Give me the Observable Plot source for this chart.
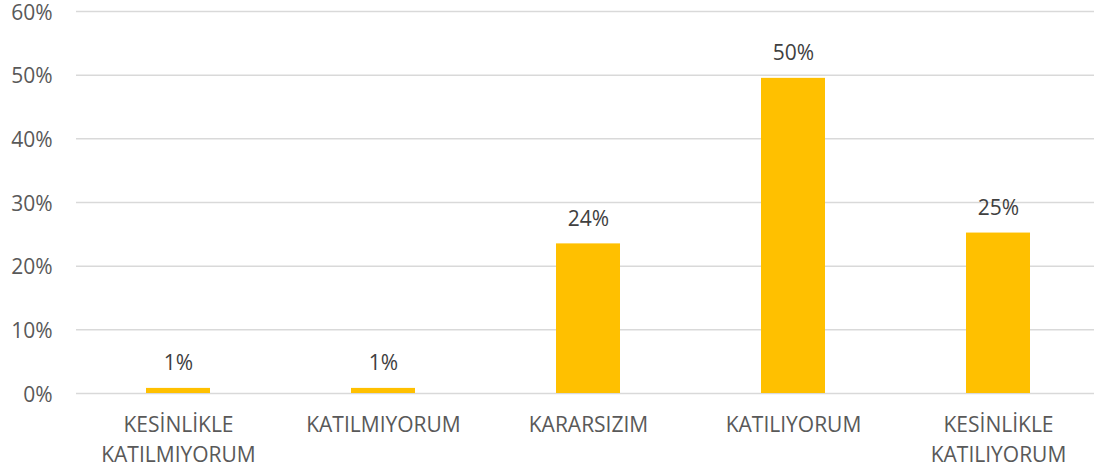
<!DOCTYPE html>
<html>
<head>
<meta charset="utf-8">
<script src="https://cdn.jsdelivr.net/npm/d3@7"></script>
<script src="https://cdn.jsdelivr.net/npm/@observablehq/plot@0.6"></script>
<style>
  html, body { margin: 0; padding: 0; background: #ffffff; }
  #chart svg { display: block; }
</style>
</head>
<body>
<div id="chart"></div>
<script>
const categories = ["KESİNLİKLE\nKATILMIYORUM", "KATILMIYORUM", "KARARSIZIM", "KATILIYORUM", "KESİNLİKLE\nKATILIYORUM"];
const values = [0.008, 0.008, 0.235, 0.495, 0.252];
const valueLabels = ["1%", "1%", "24%", "50%", "25%"];
const yTicks = [0, 0.1, 0.2, 0.3, 0.4, 0.5, 0.6];
const yTickLabels = ["0%", "10%", "20%", "30%", "40%", "50%", "60%"];

const data = categories.map((c, i) => ({category: c, value: values[i], label: valueLabels[i]}));

const chart = Plot.plot({
  width: 1094,
  height: 469,
  marginLeft: 76,
  marginRight: 0,
  marginTop: 11,
  marginBottom: 76,
  style: {fontFamily: "'Open Sans', sans-serif", fontSize: "21px", background: "#ffffff", overflow: "visible"},
  x: {domain: categories, range: [75.5, 1100.5], paddingInner: 0.688, paddingOuter: 0.344, axis: null},
  y: {domain: [0, 0.6], axis: null},
  marks: [
    Plot.ruleY(yTicks, {stroke: "#d9d9d9", strokeWidth: 1.5}),
    Plot.barY(data, {x: "category", y: "value", fill: "#FFC000"}),
    Plot.text(data, {x: "category", y: "value", text: "label", dy: -25, lineAnchor: "middle", fill: "#404040", fontSize: 21}),
    Plot.axisY(yTicks, {tickSize: 0, tickPadding: 24, dy: 1.5, tickFormat: (d, i) => yTickLabels[i], fill: "#595959", fontSize: 21, label: null}),
    Plot.axisX(categories, {tickSize: 0, tickPadding: 17, lineHeight: 1.43, fill: "#595959", fontSize: 21, label: null})
  ]
});
document.getElementById("chart").appendChild(chart);
</script>
</body>
</html>
